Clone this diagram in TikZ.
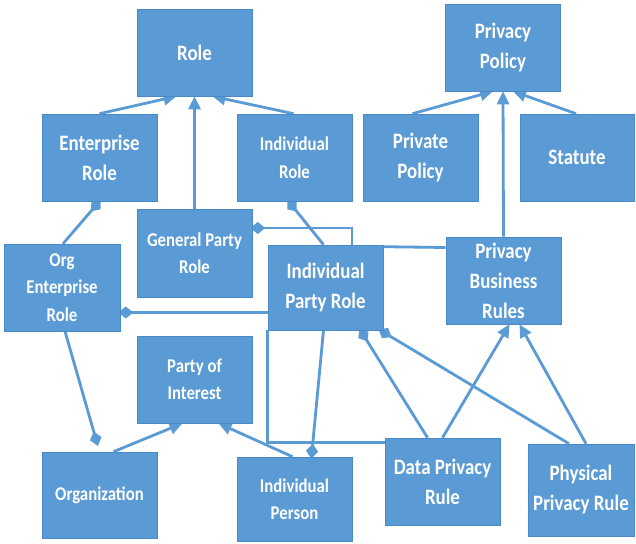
\documentclass[tikz,border=0pt]{standalone}
\usepackage{fontspec}
\setmainfont{Carlito}
\newfontfamily\boxfont[FakeStretch=0.86]{Carlito}
\usetikzlibrary{arrows.meta,calc,backgrounds}
\definecolor{boxblue}{HTML}{5B9BD5}
\definecolor{edgeblue}{HTML}{4A89C8}
\begin{document}
\begin{tikzpicture}[x=1pt,y=-1pt,
 box/.style={rectangle,fill=boxblue,draw=edgeblue,line width=0.6pt,minimum width=115pt,minimum height=87pt,text=white,font=\boxfont\bfseries\fontsize{22}{30}\selectfont,align=center,inner sep=2pt},
 smalltxt/.style={font=\boxfont\bfseries\fontsize{19.5}{27.5}\selectfont},
 conn/.style={draw=boxblue,line width=2.8pt},
 tri/.style={-{Triangle[length=13pt,width=12pt]}},
 dia/.style={-{Diamond[length=15pt,width=12pt]},shorten >=-2pt}]
\useasboundingbox (0,0) rectangle (636,543);
% boxes
\node[box] (role) at (194.5,52.5) {Role};
\node[box] (ent) at (99.5,157.5) {Enterprise\\Role};
\node[box,smalltxt] (indr) at (294.5,157.5) {Individual\\Role};
\node[box] (ppol) at (503,47.5) {Privacy\\Policy};
\node[box] (priv) at (420.5,157.5) {Private\\Policy};
\node[box,minimum width=114pt] (stat) at (577,157.5) {Statute};
\node[box,smalltxt,minimum height=88pt] (gpr) at (194.5,253) {General Party\\Role};
\node[box,smalltxt,minimum width=116pt] (oer) at (62,287.5) {Org\\Enterprise\\Role};
\node[box,minimum height=85pt] (ipr) at (325.5,287.5) {Individual\\Party Role};
\node[box] (pbr) at (503.5,280.5) {Privacy\\Business\\Rules};
\node[box,smalltxt] (poi) at (194.5,379.5) {Party of\\Interest};
\node[box,smalltxt,minimum height=86pt] (org) at (99.5,495) {Organization};
\node[box,smalltxt,minimum height=84pt] (ip) at (294.5,499) {Individual\\Person};
\node[box] (dpr) at (442.5,481.5) {Data Privacy\\Rule};
\node[box,minimum width=106pt,minimum height=92pt] (phys) at (581,490) {Physical\\Privacy Rule};
% connectors
\begin{scope}[on background layer]
\fill[white] (0,0) rectangle (636,543);
\draw[conn,tri] (ent.north) -- ($(role.south)+(-18,0)$);
\draw[conn,tri] ($(indr.north)+(-1,0)$) -- ($(role.south)+(18,0)$);
\draw[conn,tri] (gpr.north) -- (role.south);
\draw[conn,tri] ($(priv.north)+(-8,0)$) -- ($(ppol.south)+(-10,0)$);
\draw[conn,tri] ($(stat.north)+(-1,0)$) -- ($(ppol.south)+(10,0)$);
\draw[conn,tri] (pbr.north) -- (ppol.south);
\draw[conn,dia] ($(oer.north)+(1,0)$) -- (ent.south);
\draw[conn,dia,shorten >=6pt] ($(oer.south)+(3,0)$) -- (org.north);
\draw[conn,dia] ($(ipr.west)+(0,25)$) -- ($(oer.east)+(0,25)$);
\draw[conn,dia] ($(ipr.north)+(26.5,0)$) |- ($(gpr.east)+(0,-25)$);
\draw[conn,dia] ($(ipr.north)+(-2,0)$) -- ($(indr.south)+(-6,0)$);
\draw[conn] ($(ipr.north east)+(0,2)$) -- ($(pbr.west)+(0,-33)$);
\draw[conn,dia] ($(ipr.south)+(-2,0)$) -- ($(ip.north)+(17,0)$);
\draw[conn] (ipr.south west) |- ($(dpr.west)+(0,-39)$);
\draw[conn,dia] ($(dpr.north)+(-15,0)$) -- ($(ipr.south)+(35,0)$);
\draw[conn,dia] ($(phys.north)+(-12,0)$) -- ($(ipr.south east)+(-3,0)$);
\draw[conn,tri] (dpr.north) -- ($(pbr.south)+(6,0)$);
\draw[conn,tri] ($(phys.north)+(5,0)$) -- ($(pbr.south)+(16,0)$);
\draw[conn,tri] ($(org.north)+(14,0)$) -- ($(poi.south)+(-12,0)$);
\draw[conn,tri] ($(ip.north)+(-2,0)$) -- ($(poi.south)+(24,0)$);
\end{scope}
\end{tikzpicture}
\end{document}
